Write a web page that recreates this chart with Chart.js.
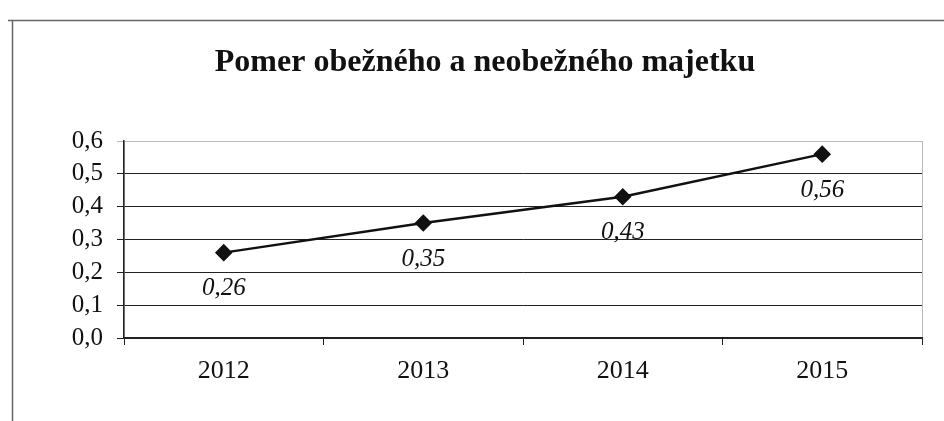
<!DOCTYPE html>
<html>
<head>
<meta charset="utf-8">
<script src="https://cdn.jsdelivr.net/npm/chart.js@4"></script>
<style>
  body { margin: 0; background: #fff; }
  #wrap { width: 944px; height: 421px; position: relative; }
</style>
</head>
<body>
<div id="wrap"><canvas id="ratioChart"></canvas></div>
<script>
const years = ["2012", "2013", "2014", "2015"];
const ratios = [0.26, 0.35, 0.43, 0.56];
const chartTitle = "Pomer obežného a neobežného majetku";

const serif = "'Liberation Serif', 'Times New Roman', serif";

// frame round the whole chart + light border of the plot area
const framePlugin = {
  id: "frame",
  beforeDraw(chart) {
    const ctx = chart.ctx;
    const a = chart.chartArea;
    ctx.save();
    ctx.fillStyle = "#fff";
    ctx.fillRect(0, 0, chart.width, chart.height);
    ctx.strokeStyle = "#666";
    ctx.lineWidth = 1.5;
    ctx.beginPath();
    ctx.moveTo(8, 20.5);
    ctx.lineTo(chart.width, 20.5);
    ctx.moveTo(12.5, 20);
    ctx.lineTo(12.5, chart.height);
    ctx.stroke();
    ctx.strokeStyle = "#bbb";
    ctx.lineWidth = 1;
    ctx.strokeRect(a.left + 0.5, a.top + 0.5, a.right - a.left, a.bottom - a.top);
    ctx.restore();
  }
};

// value labels under each point
const valueLabels = {
  id: "valueLabels",
  afterDatasetsDraw(chart) {
    const ctx = chart.ctx;
    const meta = chart.getDatasetMeta(0);
    ctx.save();
    ctx.font = "italic 25px " + serif;
    ctx.fillStyle = "#111";
    ctx.textAlign = "center";
    ctx.textBaseline = "middle";
    meta.data.forEach((pt, i) => {
      const txt = ratios[i].toFixed(2).replace(".", ",");
      ctx.fillText(txt, pt.x, pt.y + 36);
    });
    ctx.restore();
  }
};

new Chart(document.getElementById("ratioChart"), {
  type: "line",
  data: {
    labels: years,
    datasets: [{
      data: ratios,
      borderColor: "#111",
      backgroundColor: "#111",
      borderWidth: 2.5,
      pointStyle: "rectRot",
      pointRadius: 7,
      pointHoverRadius: 7,
      tension: 0
    }]
  },
  options: {
    responsive: true,
    maintainAspectRatio: false,
    animation: false,
    layout: { padding: { left: 48, right: 22, top: 0, bottom: 0 } },
    plugins: {
      legend: { display: false },
      tooltip: { enabled: false },
      title: {
        display: true,
        text: chartTitle,
        color: "#111",
        font: { family: serif, size: 32, weight: "bold" },
        padding: { top: 44, bottom: 58.6 }
      }
    },
    scales: {
      x: {
        offset: true,
        grid: {
          offset: true,
          drawOnChartArea: false,
          tickLength: 7,
          color: "#222"
        },
        border: { color: "#222", width: 1.5 },
        ticks: {
          color: "#111",
          padding: 11,
          autoSkip: false,
          maxRotation: 0,
          font: { family: serif, size: 26 }
        },
        afterFit(scale) { scale.height = 83; }
      },
      y: {
        min: 0,
        max: 0.6,
        grid: {
          tickLength: 7,
          color: (c) => (c.tick && c.tick.value >= 0.6 ? "#bbb" : "#222")
        },
        border: { color: "#222", width: 1.5 },
        ticks: {
          stepSize: 0.1,
          autoSkip: false,
          color: "#111",
          padding: 14,
          font: { family: serif, size: 25 },
          callback: (v) => v.toFixed(1).replace(".", ",")
        },
        afterFit(scale) { scale.width = 76; }
      }
    }
  },
  plugins: [framePlugin, valueLabels]
});
</script>
</body>
</html>
